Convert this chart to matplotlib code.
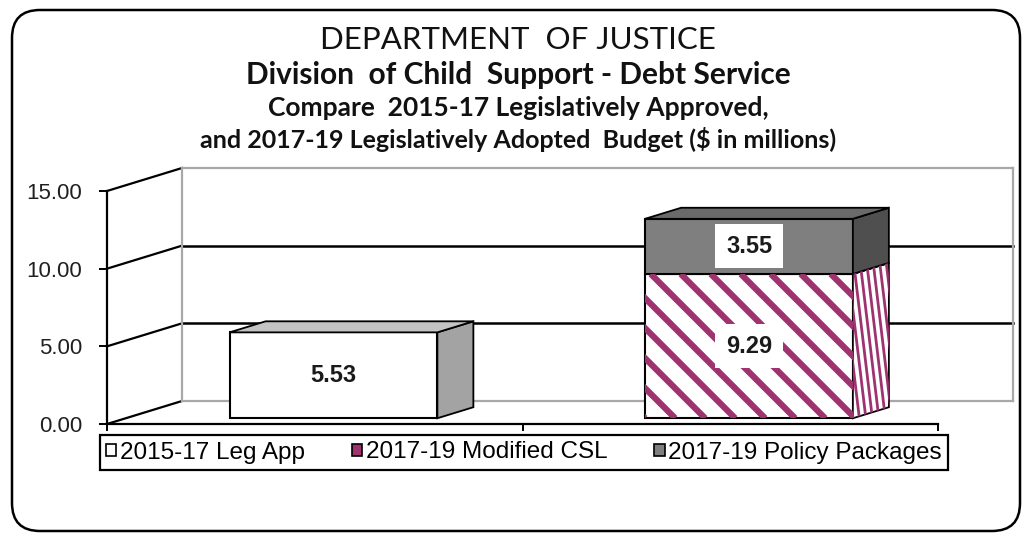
import numpy as np
import matplotlib
matplotlib.use("Agg")
import matplotlib.pyplot as plt
from matplotlib.patches import Polygon, Patch, FancyBboxPatch
from matplotlib.lines import Line2D
from matplotlib.transforms import IdentityTransform, offset_copy

plt.rcParams["font.family"] = ["Liberation Sans", "DejaVu Sans"]

# data ($ in millions)
categories = ["2015-17", "2017-19"]
leg_app = [5.53, 0.0]
modified_csl = [0.0, 9.29]
policy_packages = [0.0, 3.55]
series_labels = ["2015-17 Leg App", "2017-19 Modified CSL", "2017-19 Policy Packages"]
y_ticks = [0, 5, 10, 15]
title_lines = [
    "DEPARTMENT  OF JUSTICE",
    "Division  of Child  Support - Debt Service",
    "Compare  2015-17 Legislatively Approved,",
    "and 2017-19 Legislatively Adopted  Budget ($ in millions)",
]

W, H = 1026, 536
DX, DY = 75, 23          # depth of the fake 3d box, pixels
D_FRONT, D_BACK = 0.25, 0.73
PLUM = "#9e3370"

fig = plt.figure(figsize=(W / 100, H / 100), dpi=100)
ax = fig.add_axes([107 / W, 112 / H, 831 / W, 233 / H])
ax.set_xlim(0, len(categories))
ax.set_ylim(0, 15)
ax.patch.set_visible(False)

for s in ["top", "right"]:
    ax.spines[s].set_visible(False)
for s in ["left", "bottom"]:
    ax.spines[s].set_linewidth(1.6)
    ax.spines[s].set_zorder(6)

ax.set_yticks(y_ticks)
ax.set_yticklabels([f"{v:.2f}" for v in y_ticks], fontsize=16, color="#202020")
ax.tick_params(axis="y", length=6, width=1.4, pad=12)
ax.set_xticks(range(len(categories) + 1))
ax.set_xticklabels([])
ax.tick_params(axis="x", length=5, width=1.4)


def px(x, y, d=0.0):
    p = ax.transData.transform((x, y))
    return (p[0] + d * DX, p[1] + d * DY)


def poly(points, **kw):
    pg = Polygon(points, closed=True, transform=IdentityTransform(), clip_on=False, **kw)
    ax.add_patch(pg)
    return pg


def seg(p0, p1, color, lw, z):
    ax.add_line(Line2D([p0[0], p1[0]], [p0[1], p1[1]], color=color, lw=lw,
                       transform=IdentityTransform(), clip_on=False, zorder=z))


# back wall and left wall
xmax = len(categories)
for v in y_ticks:
    seg(px(0, v), px(0, v, 1), "black", 1.6, 1)
for v in y_ticks[1:-1]:
    seg(px(0, v, 1), px(xmax, v, 1), "black", 1.8, 1)
gray = "#a8a8a8"
seg(px(0, 0, 1), px(0, 15, 1), gray, 1.6, 1)
seg(px(0, 15, 1), px(xmax, 15, 1), gray, 1.6, 1)
seg(px(xmax, 0, 1), px(xmax, 15, 1), gray, 1.6, 1)
seg(px(0, 0, 1), px(xmax, 0, 1), gray, 1.6, 1)

front_tr = offset_copy(ax.transData, fig=fig, x=D_FRONT * DX, y=D_FRONT * DY, units="dots")
x = np.arange(len(categories)) + 0.5
bw = 0.5


def stripes(clip, x0, y0, x1, y1, step, slope, lw):
    # diagonal texture lines across a pixel box, clipped to a patch
    span = (y1 - y0) * abs(slope)
    c = x0 - span - step
    while c < x1 + span + step:
        ln = Line2D([c, c + (y1 - y0) * slope], [y1, y0], color=PLUM, lw=lw,
                    transform=IdentityTransform(), zorder=clip.get_zorder() + 0.1,
                    solid_capstyle="butt")
        ax.add_line(ln)
        ln.set_clip_path(clip.get_path(), clip.get_transform())
        c += step


def draw_series(values, bottoms, front, top, side, hatched=False):
    bars = ax.bar(x, values, bw, bottom=bottoms, facecolor=front, edgecolor="black",
                  linewidth=1.5, zorder=3)
    for b in bars:
        b.set_transform(front_tr)
        b.set_clip_on(False)
        if b.get_height() == 0:
            b.set_visible(False)
            continue
        x0, y0 = b.get_x(), b.get_y()
        x1, y1 = x0 + b.get_width(), y0 + b.get_height()
        sd = poly([px(x1, y0, D_FRONT), px(x1, y0, D_BACK), px(x1, y1, D_BACK),
                   px(x1, y1, D_FRONT)], facecolor=side, edgecolor="black", lw=1.3, zorder=3)
        poly([px(x0, y1, D_FRONT), px(x1, y1, D_FRONT), px(x1, y1, D_BACK),
              px(x0, y1, D_BACK)], facecolor=top, edgecolor="black", lw=1.3, zorder=3)
        if hatched:
            a, c = px(x0, y0, D_FRONT), px(x1, y1, D_FRONT)
            stripes(b, a[0], a[1], c[0], c[1], 30, 1.0, 4.5)
            a, c = px(x1, y0, D_FRONT), px(x1, y1, D_BACK)
            stripes(sd, a[0], a[1], c[0], c[1], 6.5, 0.12, 2.0)
    return bars


bars1 = draw_series(leg_app, 0, "white", "#c4c4c4", "#a3a3a3")
bars2 = draw_series(modified_csl, 0, "white", "#c4c4c4", "white", hatched=True)
bars3 = draw_series(policy_packages, modified_csl, "#7f7f7f", "#6a6a6a", "#4f4f4f")

for bars in (bars1, bars2, bars3):
    for b in bars:
        if b.get_height() == 0:
            continue
        ax.text(b.get_x() + b.get_width() / 2, b.get_y() + b.get_height() / 2,
                f"{b.get_height():.2f}", transform=front_tr, ha="center", va="center",
                fontsize=17, fontweight="bold", color="#1a1a1a", zorder=8,
                bbox=dict(boxstyle="square,pad=0.45", facecolor="white", edgecolor="none"))

# legend
handles = [
    Patch(facecolor="white", edgecolor="black", lw=1.2),
    Patch(facecolor=PLUM, edgecolor="black", lw=1.2),
    Patch(facecolor="#7f7f7f", edgecolor="black", lw=1.2),
]
leg = fig.legend(handles, series_labels, ncol=3, loc="center", mode="expand",
                 bbox_to_anchor=(100 / W, 66 / H, 848 / W, 35 / H), fontsize=17.5,
                 handlelength=0.42, handleheight=0.42, handletextpad=0.15,
                 columnspacing=0.6, borderpad=0.25, fancybox=False, framealpha=1,
                 edgecolor="black", borderaxespad=0)
leg.get_frame().set_linewidth(1.6)

# titles
ys = [40, 75, 108, 140]
sizes = [22.5, 21.5, 19, 18]
for t, yy, fs, i in zip(title_lines, ys, sizes, range(4)):
    fig.text(518 / W, 1 - yy / H, t, ha="center", va="center", fontsize=fs,
             family=["Lato", "DejaVu Sans"],
             fontweight="normal" if i == 0 else "bold", color="#111111")

# outer rounded frame
frame = FancyBboxPatch((12, 5), 1008, 521, boxstyle="round,pad=0,rounding_size=28",
                       transform=IdentityTransform(), facecolor="none",
                       edgecolor="black", lw=1.8)
fig.add_artist(frame)

fig.savefig("out.png", dpi=100, facecolor="white")
